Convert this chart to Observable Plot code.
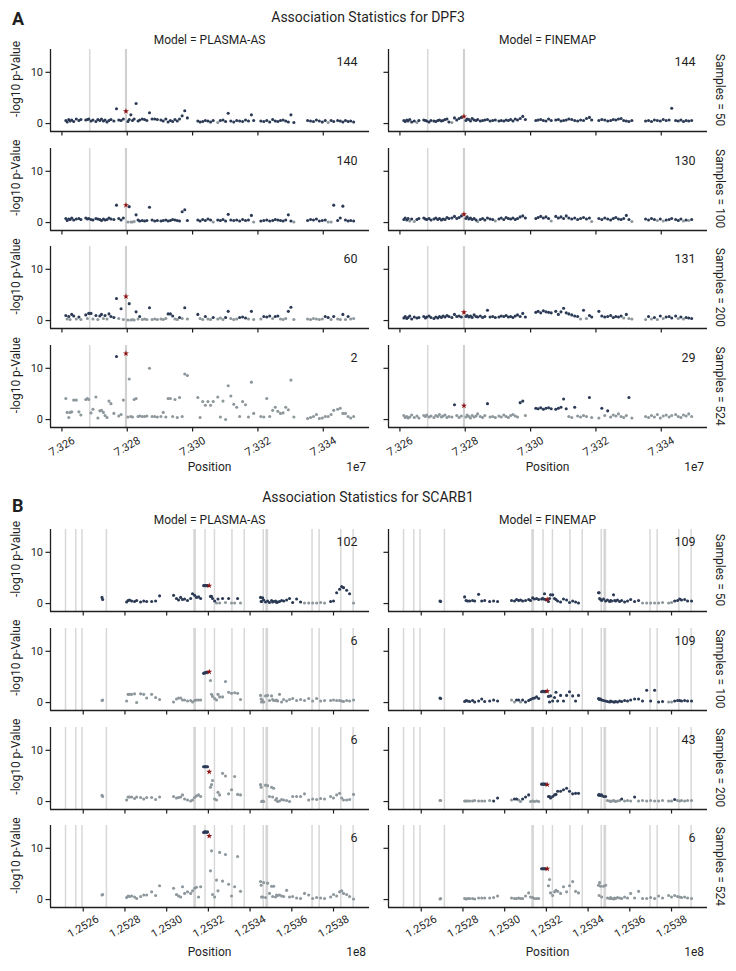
<!DOCTYPE html>
<html><head><meta charset="utf-8">
<script src="https://cdn.jsdelivr.net/npm/d3@7"></script>
<script src="https://cdn.jsdelivr.net/npm/@observablehq/plot@0.6"></script>
<style>
html,body{margin:0;padding:0;background:#fff;}
#root{position:relative;width:736px;height:971px;overflow:hidden;font-family:Roboto,sans-serif;background:#fff;}
</style></head><body><div id="root"></div>
<script>
// ---------------- shared categories ----------------
const samples = [50, 100, 200, 524];
const models = ["PLASMA-AS", "FINEMAP"];
const yTicks = [0, 10];
const yTickLabels = ["0", "10"];

// ---------------- DPF3 ----------------
const dpf3Title = "Association Statistics for DPF3";
const dpf3Positions = [
 73261200,73261600,73262100,73262500,73263000,73263600,73264400,73265200,73265800,
 73267300,73267800,73268200,73268900,73269500,
 73270400,73271000,73271600,73272100,73272700,73273200,73273800,73274400,73275000,
 73275900,73276700,73277400,73278100,73278800,
 73279600,
 73280200,73280600,73281100,73281600,73282100,73282700,73283300,73283800,
 73284600,73285300,73286000,73286800,73287600,73288400,73289200,
 73290300,73291000,73291800,73292500,73293200,73293900,73294600,73295300,73296000,73296800,73297600,73298400,
 73301600,73302300,73303100,73303900,73304700,73305500,73306300,
 73307700,73308500,73309300,73310100,73310900,73311700,
 73312600,73313500,73314400,73315300,73316200,73317100,73318000,73318700,
 73320900,73321800,73322700,73323600,73324500,73325300,73326100,73326900,73327700,73328500,73329300,73330100,73331000,
 73335200,73336100,73337000,73337900,73338800,73339700,73340600,73341500,73342400,73343200,
 73344400,73345200,73346000,73346800,73347600,73348400,73349300];
const dpf3Causal = 73279600;
const dpf3Lines = [73268500, 73279500, 73279700];
const dpf3Ticks = [73260000, 73280000, 73300000, 73320000, 73340000];
const dpf3TickLabels = ["7.326", "7.328", "7.330", "7.332", "7.334"];
const dpf3OffsetLabel = "1e7";
const dpf3SetSizePlasma = [144, 140, 60, 2];
const dpf3SetSizeFinemap = [144, 130, 131, 29];

const dpf3Plasma50 = [0.6,0.3,0.8,0.5,0.7,0.4,0.9,0.6,0.8, 0.7,0.8,0.9,0.5,0.7, 0.4,0.8,0.6,0.9,0.5,0.7,0.3,0.6,0.8, 0.5,2.9,0.7,0.6,0.9, 2.4,
 0.4,0.8,1.7,0.6,0.9,3.9,0.5,0.7, 0.9,0.8,0.6,2.1,0.9,0.9,0.8, 0.7,0.5,0.9,0.3,0.6,0.4,0.8,0.5,0.9,1.5,2.5,1.1,
 0.5,0.3,0.4,0.6,0.5,0.3,0.6, 0.2,0.6,0.7,0.4,2.0,0.5, 0.3,0.6,0.5,0.4,0.7,0.5,1.7,0.6,
 0.5,0.4,0.6,0.3,0.8,0.5,0.4,0.6,0.7,0.5,0.3,1.7,0.2, 0.6,0.5,0.4,0.7,0.5,0.3,0.6,0.2,0.6,0.4, 0.6,0.5,0.3,0.6,0.4,0.5,0.3];
const dpf3Plasma50Set = "111111111 11111 111111111 11111 1 11111111 1111111 111111111111 1111111 011111 11111111 1111111111111 1111111011 1111111";
const dpf3Finemap50 = [0.6,0.4,0.7,0.5,0.8,0.3,0.5,0.2,0.6, 0.7,0.6,0.5,0.3,0.6, 0.5,0.4,0.6,0.7,0.5,0.6,0.8,0.9,0.3, 0.2,1.1,0.7,1.0,1.2, 1.4,
 0.6,0.9,0.8,0.5,1.0,0.7,0.6,0.8, 0.5,0.6,0.7,0.8,0.5,0.6,0.7, 0.5,0.6,0.5,0.7,0.6,0.8,0.5,0.9,0.7,1.0,1.4,0.8,
 0.6,0.7,0.8,0.6,0.5,0.9,0.6, 0.7,0.8,0.5,0.6,0.7,0.9, 0.8,0.6,0.5,0.7,0.6,1.0,1.2,0.7,
 0.6,0.8,0.7,0.5,0.6,0.8,0.7,0.9,1.0,0.6,0.5,0.4,0.6, 0.5,0.6,0.4,0.7,0.6,0.5,0.8,0.6,0.7,3.0, 0.6,0.5,0.7,0.4,0.6,0.5,0.6];
const dpf3Finemap50Set = "111111101 11111 111111111 01111 1 11111111 1111111 111111111111 1111111 111111 11111111 1111111111111 1111111111 1111111";

const dpf3Plasma100 = [0.8,0.4,0.7,0.6,0.9,0.5,0.7,0.8,0.6, 0.9,0.7,0.8,0.6,0.5, 0.8,0.7,0.6,0.4,0.7,0.5,0.6,0.9,0.7, 0.6,3.4,0.8,0.5,0.9, 3.4,
 0.1,3.1,0.1,0.1,0.2,1.5,0.5,0.3, 0.4,0.3,0.4,3.0,0.5,0.3,0.4, 0.3,0.4,0.5,0.3,0.4,0.6,0.5,0.4,0.3,2.1,2.5,0.4,
 0.5,0.3,0.6,0.4,0.7,0.5,0.1, 0.5,0.4,0.6,0.3,1.6,0.5, 0.4,0.5,0.3,0.6,0.4,0.5,1.4,0.1,
 0.3,0.4,0.5,0.3,0.4,0.6,0.5,0.4,0.3,0.5,1.5,0.3,0.1, 0.4,0.6,0.5,0.7,0.3,0.4,0.5,0.1,0.1,3.4, 0.4,0.9,3.2,0.5,0.3,0.4,0.3];
const dpf3Plasma100Set = "111111111 11111 111111111 11111 1 01000111 1111111 111111111111 1111110 111111 11111110 1111111111110 1111111001 1111111";
const dpf3Finemap100 = [0.6,0.9,0.5,0.8,0.3,0.7,0.2,0.6,0.8, 0.9,0.7,0.6,0.8,0.5, 0.7,0.9,0.6,0.8,0.5,0.7,0.6,1.0,0.8, 0.9,1.2,0.8,1.0,1.3, 1.6,
 0.8,1.1,0.7,0.9,0.6,0.8,0.5,0.2, 0.6,0.8,0.5,0.9,0.7,0.6,0.3, 0.7,0.9,0.6,1.0,0.8,0.7,0.9,0.6,0.8,1.1,1.3,0.9,
 0.8,1.0,1.2,0.9,1.1,0.8,0.3, 1.2,0.9,1.1,0.8,1.3,0.9, 0.7,0.9,0.6,0.8,1.0,0.7,0.9,0.2,
 0.8,0.6,0.9,0.7,0.5,0.8,1.0,0.7,0.6,0.8,1.4,0.6,0.2, 0.7,0.5,0.8,0.6,0.4,0.7,0.3,0.5,0.6,0.8, 0.6,0.4,0.7,0.3,0.5,0.4,0.6];
const dpf3Finemap100Set = "111101011 11111 111111111 11111 1 11111110 1111110 111111111111 1111110 111111 11111110 1111111111110 1111010111 1110101";

const dpf3Plasma200 = [1.0,0.3,0.8,0.2,1.2,0.9,0.3,0.7,0.2, 1.1,0.4,1.4,1.4,0.3, 1.0,0.2,0.9,1.2,0.4,1.0,0.3,1.3,0.8, 0.6,4.3,0.4,2.3,0.2, 4.7,
 0.1,3.3,0.1,0.2,0.1,1.7,0.3,0.8, 0.2,0.3,0.2,2.5,0.2,0.3,0.2, 0.3,0.2,0.4,1.3,1.3,0.9,0.3,0.2,0.6,0.4,2.5,0.3,
 1.2,0.4,0.2,0.8,0.3,0.2,0.6, 0.3,0.5,0.2,0.6,1.8,0.4, 0.2,0.3,0.6,0.7,0.5,0.3,1.8,0.2,
 0.3,0.8,0.7,0.9,0.4,0.8,0.9,0.3,0.2,0.4,1.8,2.6,0.2, 0.3,0.2,0.4,0.3,0.2,0.3,0.8,0.6,0.2,0.8, 0.3,0.2,1.2,0.2,0.8,0.3,0.4];
const dpf3Plasma200Set = "101011010 10110 101101011 11010 1 01000101 0001000 000111001010 1001001 000110 00111010 0111011000110 0000001101 0010100";
const dpf3Finemap200 = [0.5,0.8,0.4,0.6,0.9,0.3,0.7,0.5,0.6, 0.8,0.5,0.7,0.9,0.6, 0.4,0.7,0.5,0.8,0.6,0.9,0.7,1.0,0.8, 0.6,1.2,0.8,0.9,0.7, 1.6,
 0.8,1.0,0.7,0.9,0.6,1.1,0.8,0.7, 0.9,0.6,0.8,2.0,0.7,0.8,0.6, 0.7,0.9,0.8,1.0,0.7,0.8,0.6,0.9,1.1,0.8,1.4,0.7,
 1.6,1.8,1.5,1.9,1.7,1.6,1.5, 1.8,1.2,1.7,2.4,1.5,1.3, 1.1,0.9,0.8,0.3,2.0,0.4,1.0,0.7,
 1.8,0.9,0.7,0.8,1.0,0.6,0.8,0.7,0.9,0.5,1.2,0.4,0.3, 0.2,0.8,0.3,0.6,0.2,0.9,0.4,0.7,0.8,0.5, 0.9,0.4,0.7,0.3,0.6,0.5,0.4];
const dpf3Finemap200Set = "111111111 11111 111111111 11111 1 11111111 1111111 111111111111 1111111 111111 11101011 1111111110100 0101010111 1010111";

const dpf3Plasma524 = [4.1,1.4,0.4,1.4,1.5,3.8,3.8,1.5,0.9, 3.9,4.1,3.9,1.3,2.0, 4.4,0.3,1.7,1.8,1.4,0.8,0.4,3.6,3.1, 1.2,12.3,0.7,1.0,3.8, 12.9,
 0.5,7.9,0.6,0.5,3.9,4.1,0.6,0.7, 0.6,0.6,0.7,10.0,0.6,0.6,0.5, 0.6,1.4,0.5,4.1,4.1,0.6,3.9,0.4,4.3,0.6,8.9,8.6,
 4.3,0.4,3.5,2.8,3.5,2.8,3.5, 4.4,0.5,3.6,0.0,6.6,4.6, 3.0,2.4,0.6,3.5,2.9,0.5,7.3,1.2,
 0.6,0.5,4.1,0.6,1.8,2.4,1.6,1.2,1.3,2.4,1.9,7.7,0.5, 0.2,0.4,0.6,1.0,0.2,0.3,0.6,0.6,1.0,1.8, 2.0,2.2,1.2,1.2,0.6,0.3,0.6];
const dpf3Plasma524Set = "000000000 00000 000000000 01000 1 00000000 0000000 000000000000 0000000 000000 00000000 0000000000000 0000000000 0000000";
const dpf3Finemap524 = [0.8,0.4,0.6,0.3,0.5,0.9,0.4,0.7,0.3, 0.8,0.6,0.9,0.5,0.7, 0.4,0.8,0.6,1.0,0.5,0.7,0.9,0.4,0.6, 0.5,2.9,0.8,0.4,0.7, 2.7,
 0.5,0.9,0.6,0.3,0.8,0.5,0.7,1.1, 0.6,0.4,0.8,3.1,0.5,0.6,0.4, 0.7,0.5,0.9,0.6,0.4,0.8,1.0,0.7,0.5,3.3,3.6,0.8,
 2.2,2.1,2.3,2.0,2.2,2.3,2.1, 2.0,2.2,2.4,4.0,2.1,0.6, 0.4,2.4,0.7,0.5,0.8,0.6,4.3,0.4,
 0.3,2.2,0.8,1.7,0.5,0.9,0.7,1.1,0.6,0.4,0.8,4.3,0.3, 0.6,0.4,0.8,0.5,1.0,0.3,0.7,0.9,0.5,0.8, 1.0,0.6,0.4,0.9,0.7,1.1,0.6];
const dpf3Finemap524Set = "000000000 00000 000000000 01000 1 00000000 0001000 000000000110 1111111 111110 01000010 0101000000010 0000000000 0000000";

// ---------------- SCARB1 ----------------
const scarb1Title = "Association Statistics for SCARB1";
const scarb1Positions = [
 125269000,125269300,
 125280800,125281500,125282200,125283200,125284600,125285600,125287500,125289000,125290400,125292800,125294700,125296600,
 125303300,125304700,125305700,125306700,125307600,125308600,125310000,125311500,125312400,125313400,125314300,125315300,125316300,
 125317700,125318200,125318700,125319100,125319600,
 125320400,
 125321000,125321500,125322000,125323000,125323900,125324600,125325400,125326800,125328200,125329700,125331100,125332600,125334000,125335400,
 125345000,125345300,125345500,125346000,125346500,125347400,125348400,125349300,125350300,125350800,125351300,125352200,125352700,125353200,125354100,125355100,125356100,125357500,125358900,125360400,125362300,
 125364200,125366100,125368100,125370000,125371900,125373800,125375700,
 125378600,125380000,125381500,125382900,125383900,125384800,125386300,125387700,125389600];
const scarb1Causal = 125320400;
const scarb1Lines = [125251500,125256400,125259400,125271100,125313100,125313700,125318400,125322900,125331300,125337200,125346300,125347700,125348300,125369700,125373100,125383500,125389400];
const scarb1Ticks = [125260000,125280000,125300000,125320000,125340000,125360000,125380000];
const scarb1TickLabels = ["1.2526","1.2528","1.2530","1.2532","1.2534","1.2536","1.2538"];
const scarb1OffsetLabel = "1e8";
const scarb1SetSizePlasma = [102, 6, 6, 6];
const scarb1SetSizeFinemap = [109, 109, 43, 6];

const scarb1Plasma50 = [1.2,0.8, 0.3,0.6,0.7,0.5,0.4,0.6,0.3,0.5,0.4,0.4,0.5,1.5, 1.6,1.0,0.7,1.2,0.8,0.9,0.6,1.0,1.9,1.6,1.2,1.3,1.0,
 3.5,3.5,3.5,3.5,3.5, 3.5, 1.4,1.4,1.0,0.5,0.1,0.9,0.1,1.0,0.2,1.0,0.1,0.1,1.0,0.1,
 1.2,0.4,0.4,1.1,0.7,0.3,0.5,0.2,0.6,0.3,0.4,0.5,0.2,0.3,0.4,0.6,0.5,0.7,1.0,0.2,0.9, 0.3,0.1,0.1,0.1,0.1,0.2,0.1, 0.4,0.5,2.1,2.8,3.3,3.1,2.6,1.9,0.1];
const scarb1Plasma50Set = "11 111111111111 1111111111111 11111 1 11110101010010 111111111111111111111 1000000 111111110";
const scarb1Finemap50 = [0.5,0.4, 1.3,0.6,0.5,0.5,0.6,0.5,1.8,0.5,0.6,0.4,0.5,0.4, 0.6,0.5,0.8,0.6,0.7,0.5,0.6,0.8,0.6,1.1,0.9,1.0,0.8,
 0.9,1.0,0.9,1.9,0.8, 0.8, 0.4,1.0,1.7,1.7,1.0,0.8,0.5,0.3,0.9,0.7,0.2,0.5,0.3,0.1,
 2.1,2.1,1.0,0.8,0.6,0.9,0.5,0.7,0.4,0.6,0.5,1.7,0.6,0.5,0.7,0.4,0.6,0.3,0.5,0.8,0.4, 0.6,0.1,0.1,0.1,0.1,0.1,0.2, 0.1,0.2,0.5,0.6,0.9,0.7,0.8,0.5,0.5];
const scarb1Finemap50Set = "11 111111111111 1111111111111 11111 1 11111111111111 111111111111111111111 1000000 001111111";

const scarb1Plasma100 = [0.4,0.5, 0.3,1.6,1.6,1.6,1.7,0.0,1.7,1.6,0.9,1.6,1.0,0.6, 0.1,0.7,0.9,0.9,0.5,0.5,0.3,0.4,0.1,0.4,0.5,0.5,0.5,
 5.7,5.8,5.8,5.9,5.9, 6.0, 4.3,1.6,1.2,0.8,0.5,1.6,1.1,1.1,4.1,2.0,1.8,1.9,1.8,0.6,
 1.4,0.7,0.1,0.4,0.1,1.3,1.4,0.4,1.3,0.6,0.4,0.4,0.5,0.3,1.6,0.1,0.6,0.3,0.6,0.8,0.4, 0.6,0.4,0.8,0.3,0.8,0.3,0.4, 0.4,0.5,0.4,0.4,0.3,0.2,0.4,0.3,0.5];
const scarb1Plasma100Set = "00 000000000000 0000000000000 11111 1 00000000000000 000000000000000000000 0000000 000000000";
const scarb1Finemap100 = [0.9,0.8, 0.2,0.4,0.3,0.2,0.4,0.1,0.3,0.7,0.2,0.3,0.5,0.3, 0.5,0.1,0.5,0.5,0.1,0.5,0.1,0.4,0.6,0.8,0.9,1.1,0.8,
 2.1,2.2,2.2,2.1,2.2, 2.2, 1.2,0.1,1.3,0.3,1.0,2.0,0.3,1.4,0.3,1.4,2.1,1.3,0.3,1.4,
 0.8,0.7,0.6,0.7,0.5,0.4,0.3,0.2,0.1,0.3,0.2,0.1,0.1,0.2,0.1,0.3,0.2,0.4,0.3,0.5,0.7, 0.7,0.3,2.4,0.3,2.4,0.1,0.2, 0.1,0.1,0.3,0.4,0.4,0.3,0.4,0.3,0.3];
const scarb1Finemap100Set = "11 111111111111 0011011111111 11111 1 11111111111111 111111111111111111111 1111111 001111111";

const scarb1Plasma200 = [1.2,1.0, 0.3,0.9,0.9,0.9,0.6,0.9,0.8,0.5,0.8,0.8,0.4,0.9, 1.0,0.7,0.8,0.9,1.3,0.5,0.3,0.1,0.3,0.8,1.1,1.3,1.0,
 6.8,6.8,6.8,6.8,6.8, 5.8, 2.8,3.3,4.1,0.5,0.3,1.8,1.3,5.5,5.0,1.5,2.3,4.9,1.4,1.3,
 3.3,2.8,0.0,0.1,0.0,3.2,3.1,1.0,2.8,0.9,2.6,0.3,0.6,0.0,0.1,0.4,0.3,0.2,0.0,1.0,1.0, 1.0,1.5,0.3,0.5,0.4,0.6,0.5, 1.0,0.7,1.3,1.6,0.7,0.3,0.3,0.4,1.4];
const scarb1Plasma200Set = "00 000000000000 0000000000000 11111 1 00000000000000 000000000000000000000 0000000 000000000";
const scarb1Finemap200 = [0.2,0.2, 0.1,0.1,0.1,0.1,0.1,0.2,0.1,0.1,0.1,0.2,0.1,0.7, 0.3,0.5,0.5,0.3,0.0,0.5,0.9,1.3,0.0,0.1,0.0,0.1,0.0,
 3.4,3.4,3.4,3.4,3.4, 3.3, 1.0,1.0,0.7,1.0,1.3,1.4,2.0,2.0,2.3,2.6,2.0,1.5,1.6,1.6,
 1.3,1.3,1.3,1.2,1.3,1.0,1.0,0.2,0.1,0.0,0.1,0.2,0.1,0.0,0.1,0.2,0.5,0.1,0.2,0.1,0.9, 0.1,0.2,0.1,0.2,0.1,0.1,0.2, 0.1,0.1,0.4,0.2,0.1,0.2,0.1,0.2,0.2];
const scarb1Finemap200Set = "00 000000000011 0110011100000 11111 1 11111111111111 111111100000000010001 0000000 001000000";

const scarb1Plasma524 = [0.9,1.0, 0.4,0.7,0.6,0.7,0.5,0.2,0.6,0.9,0.9,1.5,0.8,2.7, 2.2,1.0,0.7,0.5,2.5,1.2,1.5,1.2,1.7,2.2,2.4,0.5,2.5,
 13.1,13.2,13.2,13.1,13.2, 12.4, 5.6,9.5,1.0,0.5,3.8,1.7,9.2,3.6,8.8,3.0,0.7,2.5,8.4,1.6,
 3.5,2.8,0.5,0.5,3.3,0.4,3.2,1.2,2.6,0.6,2.6,0.5,0.9,0.8,0.9,0.7,0.6,1.8,0.5,0.6,0.3, 0.2,1.2,0.9,0.2,0.4,0.3,0.2, 0.5,1.0,0.7,1.5,1.7,1.2,1.0,0.6,0.1];
const scarb1Plasma524Set = "00 000000000000 0000000000000 11111 1 00000000000000 000000000000000000000 0000000 000000000";
const scarb1Finemap524 = [0.1,0.2, 0.2,0.1,0.2,0.2,0.2,0.1,0.3,0.3,0.3,0.3,0.4,0.7, 0.3,0.2,0.2,0.3,0.2,0.2,0.7,1.3,0.5,0.4,0.2,0.2,0.2,
 6.0,6.0,6.0,6.0,6.0, 6.0, 2.7,3.9,1.3,0.8,1.5,1.8,1.6,1.2,2.5,1.5,2.7,3.5,1.6,1.3,
 2.8,0.8,3.3,2.6,0.5,2.6,2.8,0.3,0.2,0.4,0.2,0.1,0.3,0.2,0.4,0.3,0.2,0.5,0.3,1.2,0.3, 1.6,0.2,0.2,0.4,0.2,0.7,0.3, 0.8,0.5,0.8,0.6,0.5,0.4,0.5,0.3,0.2];
const scarb1Finemap524Set = "00 000000000000 0000000000000 11111 1 00000000000000 000000000000000000000 0000000 000000000";

// ---------------- assembly ----------------
const panels = [
  {letter: "A", title: dpf3Title, positions: dpf3Positions, causal: dpf3Causal, lines: dpf3Lines,
   ticks: dpf3Ticks, tickLabels: dpf3TickLabels, offsetLabel: dpf3OffsetLabel, xDomain: [73256500, 73354150],
   y: [[dpf3Plasma50, dpf3Plasma100, dpf3Plasma200, dpf3Plasma524], [dpf3Finemap50, dpf3Finemap100, dpf3Finemap200, dpf3Finemap524]],
   sets: [[dpf3Plasma50Set, dpf3Plasma100Set, dpf3Plasma200Set, dpf3Plasma524Set], [dpf3Finemap50Set, dpf3Finemap100Set, dpf3Finemap200Set, dpf3Finemap524Set]],
   sizes: [dpf3SetSizePlasma, dpf3SetSizeFinemap]},
  {letter: "B", title: scarb1Title, positions: scarb1Positions, causal: scarb1Causal, lines: scarb1Lines,
   ticks: scarb1Ticks, tickLabels: scarb1TickLabels, offsetLabel: scarb1OffsetLabel, xDomain: [125244300, 125397250],
   y: [[scarb1Plasma50, scarb1Plasma100, scarb1Plasma200, scarb1Plasma524], [scarb1Finemap50, scarb1Finemap100, scarb1Finemap200, scarb1Finemap524]],
   sets: [[scarb1Plasma50Set, scarb1Plasma100Set, scarb1Plasma200Set, scarb1Plasma524Set], [scarb1Finemap50Set, scarb1Finemap100Set, scarb1Finemap200Set, scarb1Finemap524Set]],
   sizes: [scarb1SetSizePlasma, scarb1SetSizeFinemap]}
];

// layout (pixels)
const INK = "#1f1f1f", DARK = "#2b3a55", GRAY = "#8d979c", RED = "#8e1212", LINE = "#b8b8b8";
const yDomain = [-1.55, 14.45];
const plotTops = [[49, 147.7, 246.4, 345.1], [529, 627.8, 726.6, 825.4]];
const colSvgLeft = [0, 338];
const SVG_W = 372, SVG_H = 142, M_L = 50, M_R = 3, M_T = 10, M_B = 50, PH = 82;
const root = document.getElementById("root");
const problems = [];

function drawFacet(p, gi, m, r) {
  const ys = p.y[m][r];
  const set = p.sets[m][r].replace(/\s+/g, "");
  if (ys.length !== p.positions.length || set.length !== p.positions.length)
    problems.push(`${p.letter} m${m} r${r}: y ${ys.length} set ${set.length} pos ${p.positions.length}`);
  const pts = p.positions.map((x, i) => ({x, y: ys[i] ?? 0, inSet: set[i] === "1", causal: x === p.causal}));
  const gray = pts.filter(d => !d.inSet && !d.causal);
  const dark = pts.filter(d => d.inSet && !d.causal);
  const red = pts.filter(d => d.causal);
  const bottom = r === 3;
  const marks = [
    Plot.ruleX(p.lines, {x: d => d, stroke: LINE, strokeOpacity: 0.55, strokeWidth: 1.5}),
    Plot.dot(gray, {x: "x", y: "y", r: 1.55, fill: GRAY}),
    Plot.dot(dark, {x: "x", y: "y", r: 1.55, fill: DARK}),
    Plot.dot(red, {x: "x", y: "y", r: 1.9, fill: RED, symbol: "star"}),
    Plot.ruleX([p.xDomain[0]], {x: d => d, stroke: INK, strokeWidth: 1.3}),
    Plot.ruleY([yDomain[0]], {y: d => d, stroke: INK, strokeWidth: 1.3}),
    Plot.axisY(yTicks, {tickSize: 4.5, tickPadding: 3, label: null, strokeWidth: 1.2,
      tickFormat: d => m === 0 ? yTickLabels[yTicks.indexOf(d)] : ""}),
    Plot.axisX(p.ticks, {tickSize: 4.5, label: null, strokeWidth: 1.2, tickFormat: () => ""}),
    Plot.text([String(p.sizes[m][r])], {frameAnchor: "top-right", dx: -12, dy: 8, lineAnchor: "top",
      textAnchor: "end", fontSize: 12.5, fill: INK})
  ];
  if (bottom) {
    marks.push(Plot.text(p.ticks, {x: d => d, text: d => p.tickLabels[p.ticks.indexOf(d)], frameAnchor: "bottom",
      dy: 19, rotate: -30, textAnchor: "middle", lineAnchor: "middle", fontSize: 11, fill: INK}));
  }
  const svg = Plot.plot({
    width: SVG_W, height: SVG_H, marginLeft: M_L, marginRight: M_R, marginTop: M_T, marginBottom: M_B,
    x: {domain: p.xDomain}, y: {domain: yDomain},
    style: {background: "transparent", fontFamily: "Roboto, sans-serif", fontSize: "11px", color: INK, overflow: "visible"},
    marks
  });
  svg.style.position = "absolute";
  svg.style.left = colSvgLeft[m] + "px";
  svg.style.top = (plotTops[gi][r] - M_T) + "px";
  svg.style.maxWidth = "none";
  root.appendChild(svg);
}

panels.forEach((p, gi) => { for (let r = 0; r < 4; r++) for (let m = 0; m < 2; m++) drawFacet(p, gi, m, r); });

// overlay text (titles, facet labels, axis labels)
const ov = d3.select(root).append("svg").attr("width", 736).attr("height", 971)
  .style("position", "absolute").style("left", "0px").style("top", "0px")
  .style("font-family", "Roboto, sans-serif").style("pointer-events", "none");
function label(x, y, text, {size = 12, anchor = "middle", weight = 400, rotate = 0} = {}) {
  ov.append("text").attr("transform", `translate(${x},${y}) rotate(${rotate})`)
    .attr("text-anchor", anchor).attr("font-size", size).attr("font-weight", weight)
    .attr("fill", INK).text(text);
}
const colCenters = [209.5, 547.5];
const colRight = [369, 707];
const layoutText = [
  {letterY: 25, titleY: 22, facetY: 43.5, posY: 471},
  {letterY: 512, titleY: 501.5, facetY: 524, posY: 955.5}
];
panels.forEach((p, gi) => {
  const L = layoutText[gi];
  label(12, L.letterY, p.letter, {size: 18, anchor: "start", weight: 700});
  label(368, L.titleY, p.title, {size: 14});
  models.forEach((mod, m) => {
    label(colCenters[m], L.facetY, `Model = ${mod}`, {size: 12});
    label(colCenters[m], L.posY, "Position", {size: 12});
    label(colRight[m] - 3, L.posY, p.offsetLabel, {size: 12, anchor: "end"});
  });
  samples.forEach((s, r) => {
    const top = plotTops[gi][r];
    label(716, top + PH / 2, `Samples = ${s}`, {size: 12, rotate: 90});
    label(20, top + 30, "-log10 p-Value", {size: 12, rotate: -90});
  });
});
if (problems.length) label(368, 968, problems.join(" | "), {size: 9});
</script></body></html>
